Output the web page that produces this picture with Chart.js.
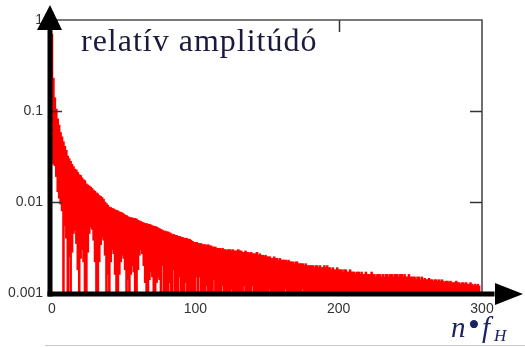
<!DOCTYPE html>
<html>
<head>
<meta charset="utf-8">
<script src="https://cdn.jsdelivr.net/npm/chart.js@4.4.1/dist/chart.umd.min.js"></script>
<style>
  html, body { margin: 0; padding: 0; background: #fff; }
  #spectrum { display: block; }
</style>
</head>
<body>
<canvas id="spectrum" width="525" height="347"></canvas>
<script>
// Axis ticks
const yTicks = [0.001, 0.01, 0.1, 1];
const xTicks = [0, 100, 200, 300];

// Peak amplitude of every harmonic, n = 0 .. 298
const peakAmp = [
  0.7, 0.23, 0.14, 0.105, 0.082, 0.07, 0.058, 0.052, 0.046, 0.041, 0.037,
  0.032, 0.030, 0.028, 0.026, 0.0245, 0.023, 0.0225, 0.0212, 0.020, 0.0196,
  0.0185, 0.0176, 0.0172, 0.0158, 0.0154, 0.0150, 0.0146, 0.0141, 0.0135, 0.0131,
  0.0126, 0.0123, 0.0118, 0.0115, 0.0112, 0.0107, 0.0100, 0.0096, 0.0092, 0.0088,
  0.0087, 0.0085, 0.0084, 0.0082, 0.0081, 0.0080, 0.0078, 0.0077, 0.0076, 0.0074,
  0.0072, 0.0071, 0.0069, 0.0068, 0.0067, 0.0067, 0.0066, 0.0066, 0.0065, 0.0063,
  0.0062, 0.0061, 0.0060, 0.0059, 0.0058, 0.0058, 0.0057, 0.0057, 0.0056, 0.0055,
  0.0054, 0.0054, 0.0053, 0.0052, 0.0051, 0.0050, 0.0049, 0.0048, 0.0048, 0.0047,
  0.0047, 0.0046, 0.0045, 0.0044, 0.0044, 0.0043, 0.0043, 0.0042, 0.0042, 0.0041,
  0.0041, 0.0040, 0.0040, 0.0040, 0.0039, 0.0039, 0.0038, 0.0037, 0.0036, 0.0036,
  0.0036, 0.0035, 0.0035, 0.0035, 0.0034, 0.0034, 0.0034, 0.0033, 0.0034, 0.0033,
  0.0033, 0.0032, 0.0032, 0.0032, 0.0031, 0.0031, 0.0031, 0.0030, 0.0031, 0.0030,
  0.0030, 0.0029, 0.0030, 0.0030, 0.0029, 0.0030, 0.0029, 0.0029, 0.0029, 0.0030,
  0.0029, 0.0029, 0.0028, 0.0028, 0.0029, 0.0028, 0.0028, 0.0027, 0.0028, 0.0027,
  0.0027, 0.0027, 0.0028, 0.0026, 0.0027, 0.0026, 0.0026, 0.0025, 0.0026, 0.0025,
  0.0025, 0.0025, 0.0024, 0.0024, 0.0025, 0.0024, 0.0024, 0.0023, 0.0024, 0.0023,
  0.0023, 0.0023, 0.0023, 0.0022, 0.0023, 0.0022, 0.0022, 0.0022, 0.0021, 0.0022,
  0.0022, 0.0021, 0.0021, 0.0021, 0.0021, 0.0020, 0.0021, 0.0020, 0.0020, 0.0020,
  0.0020, 0.0020, 0.0019, 0.0020, 0.0020, 0.0019, 0.0020, 0.0019, 0.0019, 0.0020,
  0.0019, 0.0020, 0.0019, 0.0019, 0.0018, 0.0019, 0.0018, 0.0018, 0.0019, 0.0018,
  0.0018, 0.0018, 0.0017, 0.0018, 0.0018, 0.0017, 0.0017, 0.0018, 0.0017, 0.0017,
  0.0017, 0.0016, 0.0017, 0.0017, 0.0016, 0.0017, 0.0016, 0.0016, 0.0017, 0.0016,
  0.0016, 0.0016, 0.0017, 0.0016, 0.0016, 0.0015, 0.0016, 0.0016, 0.0016, 0.0015,
  0.0016, 0.0015, 0.0016, 0.0016, 0.0015, 0.0016, 0.0016, 0.0015, 0.0016, 0.0016,
  0.0016, 0.0015, 0.0016, 0.0016, 0.0015, 0.0016, 0.0015, 0.0015, 0.0016, 0.0015,
  0.0015, 0.0015, 0.0015, 0.0014, 0.0015, 0.0015, 0.0014, 0.0015, 0.0014, 0.00145,
  0.0014, 0.0014, 0.00145, 0.0014, 0.0014, 0.00135, 0.0014, 0.0014, 0.00135, 0.0014,
  0.00135, 0.0014, 0.00135, 0.0013, 0.00135, 0.00135, 0.0013, 0.00135, 0.0013, 0.0013,
  0.0013, 0.00135, 0.0013, 0.0013, 0.00125, 0.0013, 0.0013, 0.00125, 0.0013, 0.00125,
  0.00125, 0.0013, 0.00125, 0.0012, 0.00125, 0.0012, 0.00125, 0.0012
];

// Harmonics whose trough stays above the bottom of the axis (white gaps under the red)
const gapHarm = [
  0, 1, 2, 3, 4, 5, 6, 7, 9, 10, 12,
  14, 15, 16, 17, 18, 20, 21, 22,
  25, 26, 27, 28, 29, 30, 33, 34, 35, 36, 37, 39,
  41, 42, 43, 44, 47, 48, 49, 50, 51, 53, 55, 56, 57,
  60, 61, 62, 63, 64, 65, 68, 69, 70, 73, 74, 75, 77,
  82, 85, 89, 93, 101, 103, 108, 113, 119,
  125, 134, 140, 152, 163, 175
];
const gapLevel = [
  0.03, 0.026, 0.025, 0.019, 0.013, 0.011, 0.0095, 0.008, 0.0055, 0.004, 0.0025,
  0.0028, 0.0045, 0.0049, 0.0035, 0.0018, 0.0024, 0.003, 0.0022,
  0.0028, 0.0045, 0.0053, 0.005, 0.0038, 0.0022, 0.0022, 0.0034, 0.0041, 0.0038, 0.0026, 0.0016,
  0.0022, 0.003, 0.0027, 0.0016, 0.0016, 0.0022, 0.0026, 0.0024, 0.0018, 0.0014, 0.0016, 0.002, 0.0017,
  0.0018, 0.0026, 0.003, 0.0027, 0.002, 0.0013, 0.0014, 0.0017, 0.0015, 0.0013, 0.0015, 0.0014, 0.002,
  0.0013, 0.0018, 0.0015, 0.0013, 0.0015, 0.0015, 0.0012, 0.0014, 0.0012,
  0.0011, 0.0012, 0.0012, 0.0011, 0.0011, 0.0011
];

const titleText = "relatív amplitúdó";

// floating bars: from trough up to peak
const yMin = yTicks[0];
const troughs = peakAmp.map(() => yMin);
gapHarm.forEach((n, i) => {
  troughs[n] = gapLevel[i];
});
const bars = peakAmp.map((v, n) => ({ x: n, y: [troughs[n], v] }));

Chart.defaults.font.family = "'Liberation Sans', Arial, sans-serif";
Chart.defaults.font.size = 14;
Chart.defaults.color = "#333";

// Frame, ticks, thick arrow axes and the texts
const frame = {
  id: "frame",
  afterDraw(chart) {
    const c = chart.ctx;
    const a = chart.chartArea;
    const xs = chart.scales.x;
    const ys = chart.scales.y;
    c.save();

    c.strokeStyle = "#4d4d4d";
    c.lineWidth = 1.6;
    c.beginPath();
    c.moveTo(a.left - 2, a.top);
    c.lineTo(a.right, a.top);
    c.lineTo(a.right, a.bottom);
    c.stroke();

    c.strokeStyle = "#333";
    c.lineWidth = 1.5;
    [0.1, 0.01].forEach((v) => {
      const py = Math.round(ys.getPixelForValue(v)) + 0.5;
      c.beginPath();
      c.moveTo(a.left, py);
      c.lineTo(a.left + 10, py);
      c.moveTo(a.right - 12, py);
      c.lineTo(a.right, py);
      c.stroke();
    });
    [200].forEach((v) => {
      const px = Math.round(xs.getPixelForValue(v)) + 0.5;
      c.beginPath();
      c.moveTo(px, a.top);
      c.lineTo(px, a.top + 12);
      c.stroke();
    });

    // thick black axes with arrow heads
    const ax = a.left - 2;
    const ay = a.bottom + 1;
    c.fillStyle = "#000";
    c.fillRect(ax - 2.5, 20, 5, ay - 20 + 2.5);
    c.fillRect(ax - 2.5, ay - 2.5, 497 - ax, 5);
    c.beginPath();
    c.moveTo(ax - 13, 30);
    c.lineTo(ax + 12, 30);
    c.lineTo(ax, 5);
    c.closePath();
    c.fill();
    c.beginPath();
    c.moveTo(495, ay - 11);
    c.lineTo(495, ay + 11);
    c.lineTo(523, ay);
    c.closePath();
    c.fill();

    // light line at the very bottom
    c.strokeStyle = "#c8c8c8";
    c.lineWidth = 1;
    c.beginPath();
    c.moveTo(45, 345.5);
    c.lineTo(525, 345.5);
    c.stroke();

    c.fillStyle = "#1a1a3c";
    c.textBaseline = "alphabetic";
    c.textAlign = "left";
    c.font = "32px 'Liberation Serif', 'Times New Roman', serif";
    c.letterSpacing = "1px";
    c.fillText(titleText, 81, 51);
    c.letterSpacing = "0px";

    c.fillStyle = "#1c2260";
    c.font = "italic 29px 'Liberation Serif', 'Times New Roman', serif";
    c.fillText("n", 451, 337);
    c.font = "34px 'Liberation Serif', 'Times New Roman', serif";
    c.fillText("•", 468, 336);
    c.font = "italic 29px 'Liberation Serif', 'Times New Roman', serif";
    c.fillText("f", 482, 337);
    c.font = "italic 17px 'Liberation Serif', 'Times New Roman', serif";
    c.fillText("H", 494, 341);

    c.restore();
  },
};

const ctx = document.getElementById("spectrum").getContext("2d");
new Chart(ctx, {
  type: "bar",
  data: {
    datasets: [
      {
        label: "relatív amplitúdó",
        data: bars,
        backgroundColor: "#ff0000",
        borderWidth: 0,
        barThickness: 1.9,
      },
    ],
  },
  options: {
    responsive: false,
    animation: false,
    layout: { padding: { top: 20, right: 43, left: 0, bottom: 0 } },
    plugins: {
      legend: { display: false },
      tooltip: { enabled: false },
    },
    scales: {
      x: {
        type: "linear",
        offset: false,
        min: xTicks[0],
        max: xTicks[xTicks.length - 1],
        afterBuildTicks: (s) => {
          s.ticks = xTicks.map((v) => ({ value: v }));
        },
        afterFit: (s) => {
          s.height = 54;
        },
        grid: { display: false, drawTicks: false, offset: false },
        border: { display: false },
        ticks: { padding: 8, maxRotation: 0, color: "#333" },
      },
      y: {
        type: "logarithmic",
        min: yTicks[0],
        max: yTicks[yTicks.length - 1],
        afterBuildTicks: (s) => {
          s.ticks = yTicks.map((v) => ({ value: v }));
        },
        afterFit: (s) => {
          s.width = 52;
        },
        grid: { display: false, drawTicks: false },
        border: { display: false },
        ticks: {
          padding: 9,
          color: "#333",
          callback: (v) => String(v),
        },
      },
    },
  },
  plugins: [frame],
});
</script>
</body>
</html>
